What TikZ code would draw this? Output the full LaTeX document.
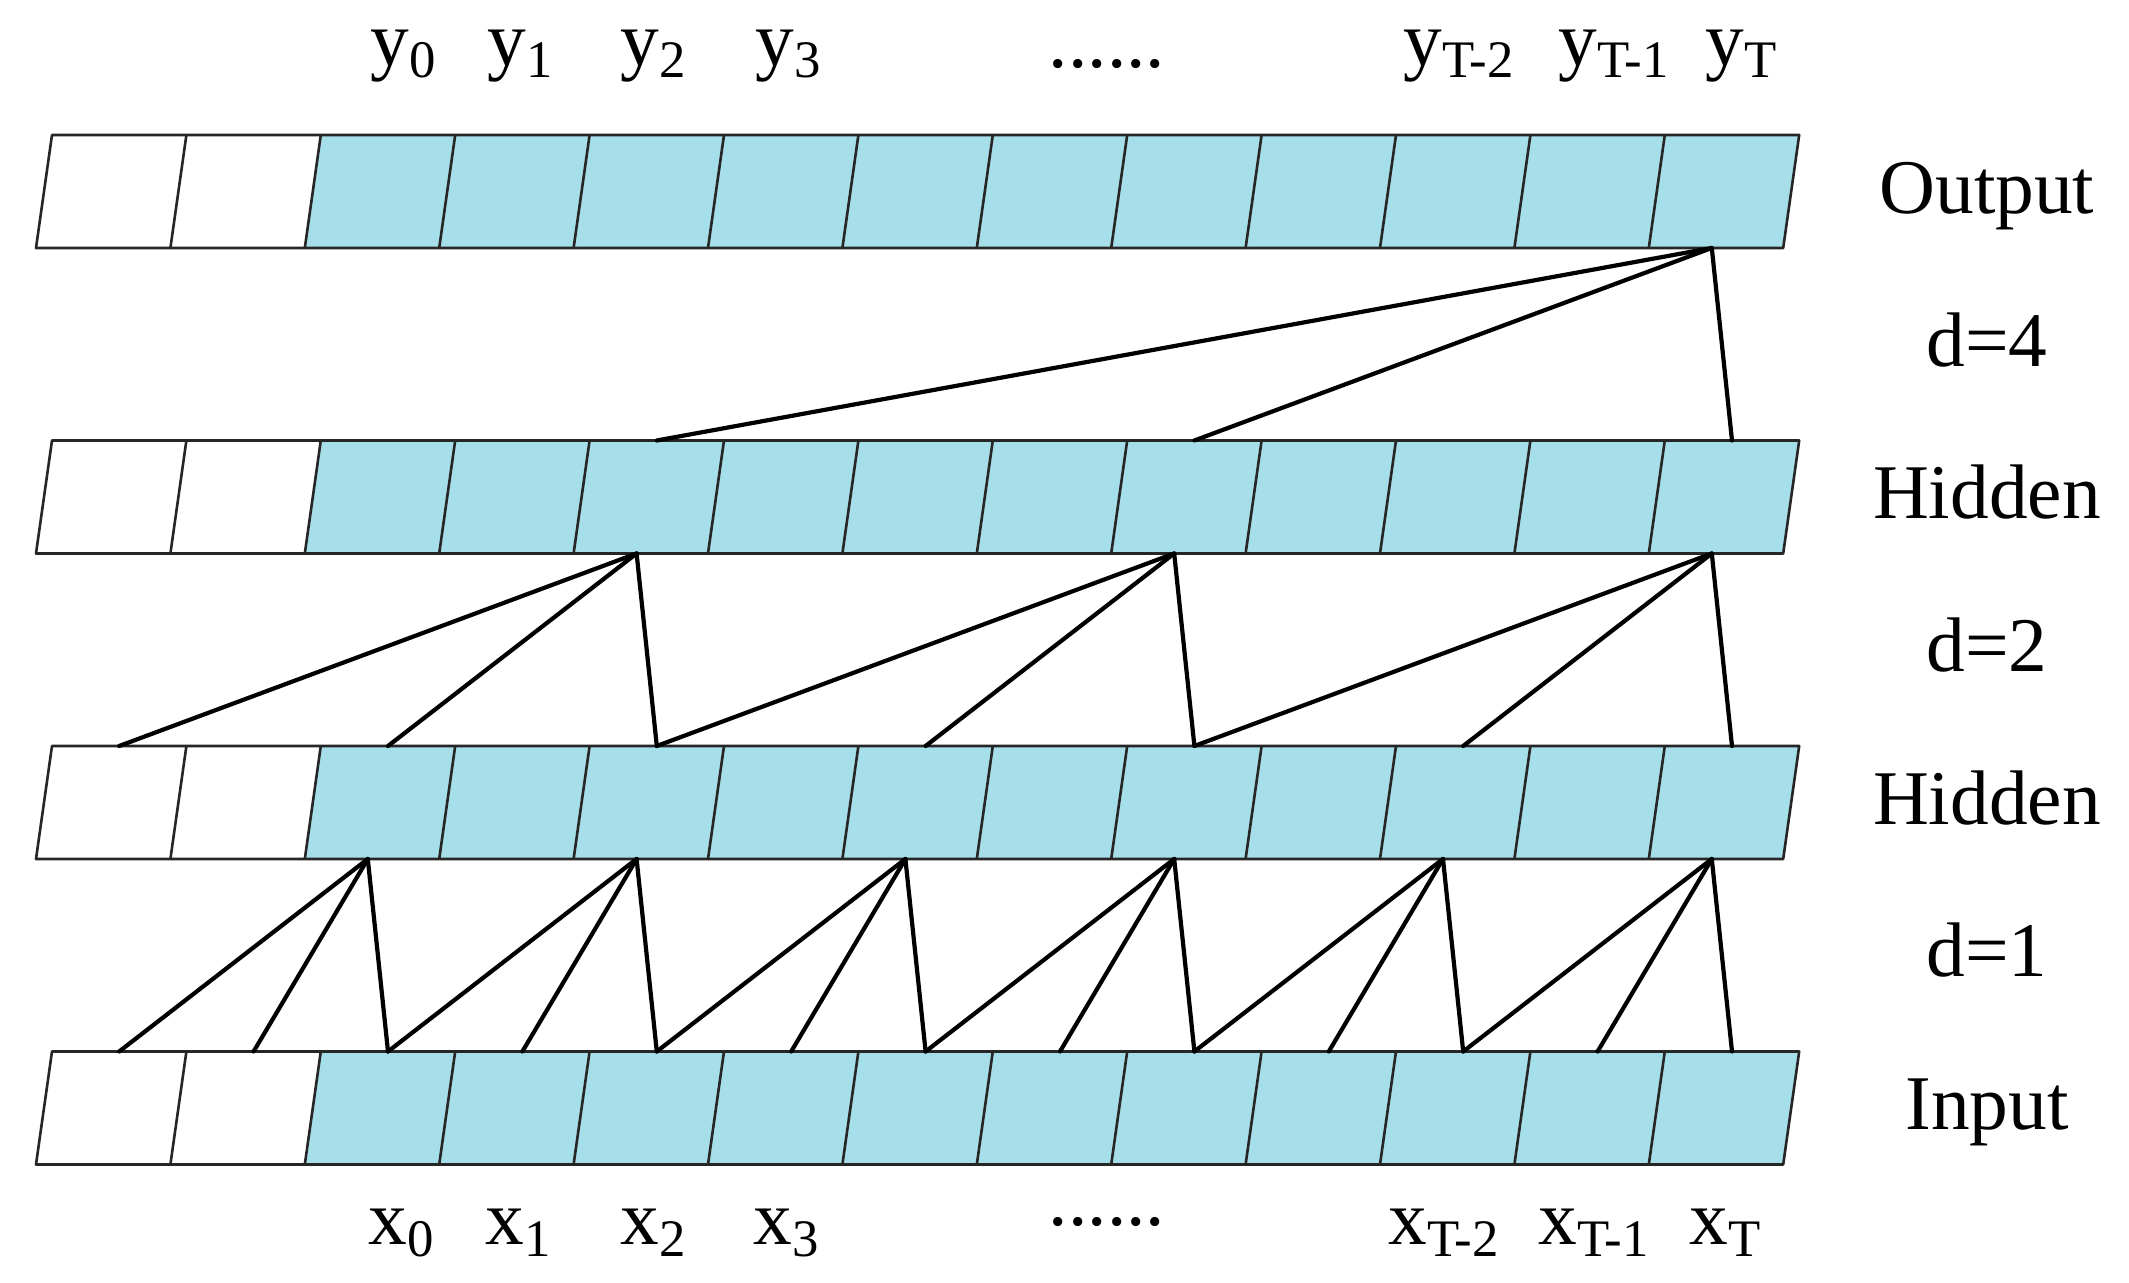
\documentclass[tikz,border=0pt]{standalone}
\usepackage{fontspec}
\setmainfont{Liberation Serif}
\definecolor{cellblue}{RGB}{166,222,233}
\newcommand{\lsub}[1]{\raisebox{-0.15em}{\fontsize{15}{15}\selectfont #1}}
\begin{document}
\begin{tikzpicture}[x=0.01cm,y=-0.01cm,
  cellline/.style={draw=black!85, line width=0.026cm, line join=round},
  conn/.style={draw=black, line width=0.042cm, line cap=round},
  lab/.style={inner sep=0pt, font=\fontsize{22}{26}\selectfont},
]
\useasboundingbox (0,0) rectangle (2129,1283);
% rows of cells
\foreach \r/\yt in {o/135, ha/440.5, hb/746, in/1051.5} {
  \pgfmathsetmacro\yb{\yt+113}
  \fill[white] (52,\yt) -- (320.8,\yt) -- (304.8,\yb) -- (36,\yb) -- cycle;
  \fill[cellblue] (320.8,\yt) -- (1799.2,\yt) -- (1783.2,\yb) -- (304.8,\yb) -- cycle;
  \draw[cellline] (52,\yt) -- (1799.2,\yt) -- (1783.2,\yb) -- (36,\yb) -- cycle;
  \foreach \k in {1,...,12} {
    \draw[cellline] (52+134.4*\k,\yt) -- (36+134.4*\k,\yb);
  }
  \foreach \k in {0,...,12} {
    \coordinate (\r-\k-t) at (119.2+134.4*\k,\yt);
    \coordinate (\r-\k-b) at (99+134.4*\k,\yb);
  }
}
% d=4 connections
\foreach \s in {4,8,12} {
  \draw[conn] (o-12-b) -- (ha-\s-t);
}
% d=2 connections
\foreach \a in {4,8,12} {
  \pgfmathtruncatemacro\ba{\a-4}
  \pgfmathtruncatemacro\bb{\a-2}
  \draw[conn] (ha-\a-b) -- (hb-\ba-t);
  \draw[conn] (ha-\a-b) -- (hb-\bb-t);
  \draw[conn] (ha-\a-b) -- (hb-\a-t);
}
% d=1 connections
\foreach \a in {2,4,...,12} {
  \pgfmathtruncatemacro\ba{\a-2}
  \pgfmathtruncatemacro\bb{\a-1}
  \draw[conn] (hb-\a-b) -- (in-\ba-t);
  \draw[conn] (hb-\a-b) -- (in-\bb-t);
  \draw[conn] (hb-\a-b) -- (in-\a-t);
}
% top labels
\node[lab, anchor=base west] (y0) at (370,66) {y\lsub{0}};
\node[lab, anchor=base west] (y1) at (487,66) {y\lsub{1}};
\node[lab, anchor=base west] (y2) at (620,66) {y\lsub{2}};
\node[lab, anchor=base west] (y3) at (755,66) {y\lsub{3}};
\node[lab, anchor=base] (ydots) at (1107,68) {......};
\node[lab, anchor=base west] (yT2) at (1403,66) {y\lsub{T-2}};
\node[lab, anchor=base west] (yT1) at (1558,66) {y\lsub{T-1}};
\node[lab, anchor=base west] (yT) at (1705,66) {y\lsub{T}};
% bottom labels
\node[lab, anchor=base west] (x0) at (368,1245) {x\lsub{0}};
\node[lab, anchor=base west] (x1) at (485,1245) {x\lsub{1}};
\node[lab, anchor=base west] (x2) at (620,1245) {x\lsub{2}};
\node[lab, anchor=base west] (x3) at (753,1245) {x\lsub{3}};
\node[lab, anchor=base] (xdots) at (1107,1226) {......};
\node[lab, anchor=base west] (xT2) at (1388,1245) {x\lsub{T-2}};
\node[lab, anchor=base west] (xT1) at (1538,1245) {x\lsub{T-1}};
\node[lab, anchor=base west] (xT) at (1689,1245) {x\lsub{T}};
% right labels
\node[lab, anchor=base] (lout) at (1987,213.5) {Output};
\node[lab, anchor=base] (ld4) at (1987,367) {d=4};
\node[lab, anchor=base] (lh1) at (1987,519) {Hidden};
\node[lab, anchor=base] (ld2) at (1987,672) {d=2};
\node[lab, anchor=base] (lh2) at (1987,824.5) {Hidden};
\node[lab, anchor=base] (ld1) at (1987,977) {d=1};
\node[lab, anchor=base] (lin) at (1987,1130) {Input};
\end{tikzpicture}
\end{document}
